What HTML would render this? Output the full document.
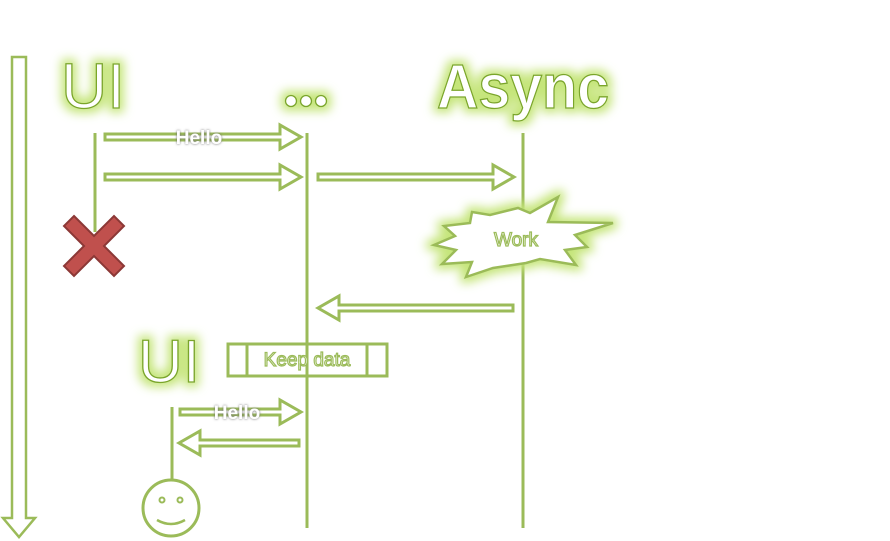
<!DOCTYPE html>
<html><head><style>html,body{margin:0;padding:0;background:#fff;width:890px;height:541px;overflow:hidden}</style></head>
<body>
<svg width="890" height="541" viewBox="0 0 890 541" xmlns="http://www.w3.org/2000/svg" font-family="Liberation Sans, sans-serif">
<defs>
<filter id="glow" x="-30%" y="-30%" width="160%" height="160%">
<feMorphology in="SourceAlpha" operator="dilate" radius="4" result="d"/>
<feGaussianBlur in="d" stdDeviation="5" result="b"/>
<feFlood flood-color="#c5e57a"/>
<feComposite in2="b" operator="in" result="g"/>
<feMerge><feMergeNode in="g"/><feMergeNode in="SourceGraphic"/></feMerge>
</filter>
<filter id="sh" x="-20%" y="-40%" width="140%" height="180%">
<feGaussianBlur in="SourceAlpha" stdDeviation="1.2" result="b"/>
<feFlood flood-color="#666"/><feComposite in2="b" operator="in" result="s"/>
<feMerge><feMergeNode in="s"/><feMergeNode in="SourceGraphic"/></feMerge>
</filter>
</defs>
<g fill="none" stroke="#9bbb59" stroke-width="3">
<path d="M12,57 H26 V518 H35 L19,537 L3,518 H12 Z" stroke-width="2.5"/>
<line x1="95" y1="133" x2="95" y2="232"/>
<line x1="307" y1="133" x2="307" y2="528"/>
<line x1="523" y1="133" x2="523" y2="528"/>
<line x1="172" y1="407" x2="172" y2="480"/>
<path d="M105,134 H280 V125 L301,137 L280,149 V140 H105 Z"/>
<path d="M105,174 H280 V165 L301,177 L280,189 V180 H105 Z"/>
<path d="M318,174 H493 V165 L514,177 L493,189 V180 H318 Z"/>
<path d="M180,409 H280 V400 L301,412 L280,424 V415 H180 Z"/>
<path d="M513,305 H339 V296 L318,308 L339,320 V311 H513 Z"/>
<path d="M299,440 H200 V431 L179,443 L200,455 V446 H299 Z"/>
<rect x="228" y="344" width="159" height="32"/>
<line x1="247" y1="344" x2="247" y2="376"/>
<line x1="367" y1="344" x2="367" y2="376"/>
<circle cx="171" cy="508" r="28"/>
<circle cx="162" cy="500" r="2.5" stroke-width="2"/>
<circle cx="180" cy="500" r="2.5" stroke-width="2"/>
<path d="M157,520 Q171,528 185,520" stroke-width="2.5"/>
</g>
<path filter="url(#glow)" d="M472,212 L490,215 L518,208 L530,213 L558,197 L548,222 L613,223 L575,235 L587,247 L565,250 L576,265 L540,259 L526,263 L493,268 L466,277 L472,262 L442,264 L456,250 L434,245 L455,236 L444,226 L470,223 Z" fill="#fff" stroke="#9bbb59" stroke-width="2.5"/>
<text x="516" y="246" font-size="19" text-anchor="middle" fill="#fff" stroke="#9bbb59" stroke-width="1.2">Work</text>
<path d="M74,216 L94,236 L114,216 L124,226 L104,246 L124,266 L114,276 L94,256 L74,276 L64,266 L84,246 L64,226 Z" fill="#c0504d" stroke="#8c3836" stroke-width="2"/>
<g filter="url(#glow)" fill="#fff" stroke="#7aa52a" stroke-width="1.3">
<text x="61" y="108" font-size="64" textLength="64" lengthAdjust="spacingAndGlyphs">UI</text>
<circle cx="291" cy="101" r="5.5"/>
<circle cx="306" cy="101" r="5.5"/>
<circle cx="321" cy="101" r="5.5"/>
<text x="437" y="108" font-size="62" font-weight="bold" textLength="172" lengthAdjust="spacingAndGlyphs">Async</text>
<text x="138" y="382" font-size="60" textLength="62" lengthAdjust="spacingAndGlyphs">UI</text>
</g>
<text x="307" y="366" font-size="19" text-anchor="middle" fill="#fff" stroke="#9bbb59" stroke-width="1.2">Keep data</text>
<g filter="url(#sh)" fill="#fff" font-weight="bold" font-size="19">
<text x="199" y="144" text-anchor="middle">Hello</text>
<text x="237" y="419" text-anchor="middle">Hello</text>
</g>
</svg>
</body></html>
